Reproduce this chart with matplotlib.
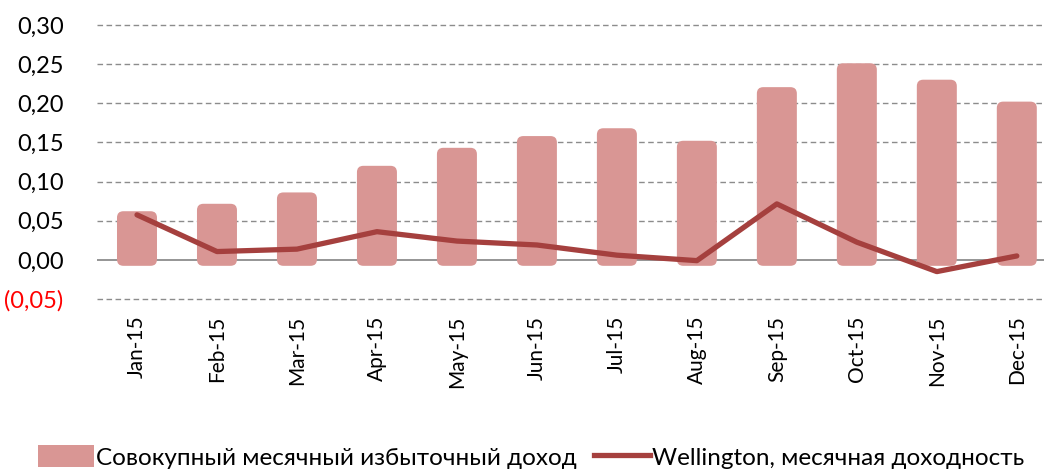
import numpy as np
import matplotlib.pyplot as plt
from matplotlib.patches import FancyBboxPatch
from matplotlib.lines import Line2D
from matplotlib.patches import Patch

plt.rcParams['font.family'] = ['Lato', 'DejaVu Sans']

months = ['Jan-15', 'Feb-15', 'Mar-15', 'Apr-15', 'May-15', 'Jun-15',
          'Jul-15', 'Aug-15', 'Sep-15', 'Oct-15', 'Nov-15', 'Dec-15']
excess = [0.062, 0.0715, 0.086, 0.120, 0.143, 0.158,
          0.168, 0.152, 0.2205, 0.251, 0.230, 0.202]
wellington = [0.0575, 0.0106, 0.0137, 0.036, 0.024, 0.019,
              0.006, -0.001, 0.0715, 0.0226, -0.015, 0.005]
yticks = [-0.05, 0.0, 0.05, 0.10, 0.15, 0.20, 0.25, 0.30]

bar_col = '#D99694'
line_col = '#A5403E'

fig = plt.figure(figsize=(10.44, 4.71), dpi=100)
ax = fig.add_axes([97/1044, (471-299)/471, 1 - 97/1044, 274/471])

x = np.arange(len(months))
ax.set_xlim(-0.5, 11.34)
ax.set_ylim(-0.05, 0.30)

# gridlines
for t in yticks:
    if t == 0:
        ax.axhline(0, color='#8C8C8C', lw=1.3, zorder=1)
    else:
        ax.axhline(t, color='#8C8C8C', lw=1.0, ls=(0, (4, 2.5)), zorder=1, clip_on=False)

# rounded bars, starting slightly below zero
bw = 0.5
base = -0.0075
for xi, v in zip(x, excess):
    p = FancyBboxPatch((xi - bw/2 + 0.06, base + 0.006), bw - 0.12, v - base - 0.012,
                       boxstyle='round,pad=0.06,rounding_size=0.08',
                       mutation_aspect=0.102, fc=bar_col, ec='none', zorder=2)
    ax.add_patch(p)

ax.plot(x, wellington, color=line_col, lw=3.8, solid_capstyle='round', zorder=3)

ax.set_xticks(x)
ax.set_xticklabels(months, rotation=90, fontsize=15)
ax.set_yticks(yticks)
labels = []
for t in yticks:
    s = f'{abs(t):.2f}'.replace('.', ',')
    labels.append(f'({s})' if t < 0 else s)
ax.set_yticklabels(labels, fontsize=17)
for lab, t in zip(ax.get_yticklabels(), yticks):
    if t < 0:
        lab.set_color('#FF0000')
ax.tick_params(length=0)
ax.tick_params(axis='y', pad=24)
ax.tick_params(axis='x', pad=12)
for s in ax.spines.values():
    s.set_visible(False)

handles = [Patch(fc=bar_col, ec='none'),
           Line2D([], [], color=line_col, lw=3.8)]
fig.legend(handles, ['Совокупный месячный избыточный доход', 'Wellington, месячная доходность'],
           loc='center', bbox_to_anchor=(531/1044, 1 - 457/471), ncol=2, frameon=False,
           fontsize=17.5, handlelength=2.3, handleheight=1.0, handletextpad=0.1,
           columnspacing=0.7, borderpad=0)

fig.savefig('out.png', dpi=100)
